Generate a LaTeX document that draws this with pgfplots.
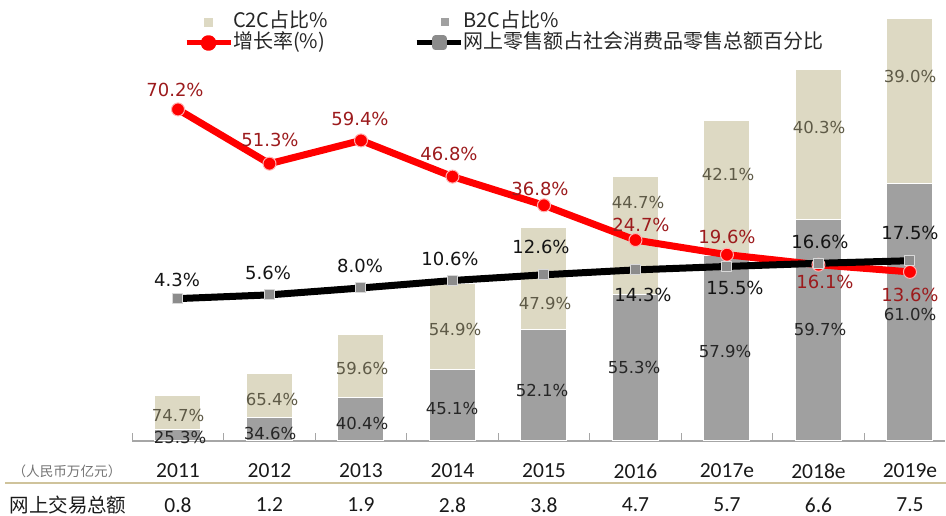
\documentclass[border=0pt]{standalone}
\usepackage{pgfplots}
\pgfplotsset{compat=1.18}
\usepackage{fontspec}
\setmainfont{DejaVu Sans}
\newfontfamily\cjk{Noto Sans CJK SC}
\newfontfamily\calfont{Carlito}
\newfontfamily\dvfont{DejaVu Sans}
\definecolor{c2c}{HTML}{DDD9C3}
\definecolor{b2c}{HTML}{A0A0A0}
\definecolor{redlbl}{HTML}{9C1A1C}
\definecolor{c2clbl}{HTML}{5E5A47}
\definecolor{b2clbl}{HTML}{262626}
\definecolor{axgray}{HTML}{A6A6A6}
\definecolor{tanline}{HTML}{CFC39B}
\definecolor{sqgray}{HTML}{8C8C8C}
\definecolor{sqedge}{HTML}{D9D9D9}
\newcommand\lab[4]{\node[#1] at (#2,{516-#3}) {#4};}
\begin{document}
\begin{tikzpicture}
\pgfplotsset{base/.style={at={(132.25pt,75pt)}, anchor=south west, scale only axis,
  width=812.75pt, height=426pt, xmin=-0.5, xmax=8.383, clip=false}}
\begin{axis}[base, ymin=0, ymax=7.567, ybar stacked, bar width=46pt,
  axis x line*=bottom, axis y line=none,
  x axis line style={axgray, line width=1.5pt},
  xtick={0,...,8},
  xticklabels={2011,2012,2013,2014,2015,2016,2017e,2018e,2019e},
  major tick length=0pt,
  minor xtick={-0.5,0.5,1.5,2.5,3.5,4.5,5.5,6.5,7.5},
  minor tick length=8pt, tick align=inside,
  minor x tick style={axgray, line width=1pt},
  xticklabel style={font=\calfont\fontsize{21.5}{24}\selectfont, text=black!90, anchor=center, yshift=-30pt, inner sep=0pt}]
\addplot[fill=b2c, draw=white, line width=1pt] coordinates {
 (0,0.2024) (1,0.4152) (2,0.7676) (3,1.2628) (4,1.9798) (5,2.5991) (6,3.3003) (7,3.9402) (8,4.575)};
\addplot[fill=c2c, draw=white, line width=1pt] coordinates {
 (0,0.5976) (1,0.7848) (2,1.1324) (3,1.5372) (4,1.8202) (5,2.1009) (6,2.3997) (7,2.6598) (8,2.925)};
\end{axis}
\begin{axis}[base, ymin=-45.3, ymax=103.1, axis lines=none,
  legend columns=2, legend cell align=left,
  legend style={at={(0.0637,1.00822)}, anchor=north west, draw=none, fill=none,
    inner sep=0pt, outer sep=0pt, font=\cjk\fontsize{20}{22}\selectfont,
    nodes={inner sep=0pt, text height=16.5pt, text depth=4.5pt, text=black!85},
    /tikz/column 2/.style={column sep=86pt}}]
\addlegendimage{legend image code/.code={\fill[c2c] (18pt,-4pt) rectangle (26pt,4pt);}}
\addlegendentry{C2C占比\%}
\addlegendimage{legend image code/.code={\fill[b2c] (25pt,-3.5pt) rectangle (32pt,3.5pt);}}
\addlegendentry{B2C占比\%}
\addplot[red, line width=7pt, line join=round, mark=*, mark size=6.5pt,
  mark options={fill=red, draw=red!30, line width=1pt},
  legend image code/.code={\draw[red, line width=5pt] (0pt,0pt)--(44pt,0pt); \fill[red] (22pt,0pt) circle (4.5pt);}]
 coordinates {(0,70.2) (1,51.3) (2,59.4) (3,46.8) (4,36.8) (5,24.7) (6,19.6) (7,16.1) (8,13.6)};
\addlegendentry{增长率(\%)}
\addplot[black, line width=7pt, line join=round, mark=square*, mark size=5pt,
  mark options={fill=sqgray, draw=sqedge, line width=1pt},
  legend image code/.code={\draw[black, line width=5pt] (0pt,0pt)--(44pt,0pt); \fill[sqgray] (19pt,-4pt) rectangle (27pt,4pt);}]
 coordinates {(0,4.3) (1,5.6) (2,8.0) (3,10.6) (4,12.6) (5,14.3) (6,15.5) (7,16.6) (8,17.5)};
\addlegendentry{网上零售额占社会消费品零售总额百分比}
\end{axis}
\begin{scope}[x=1pt, y=1pt,
  cl/.style={font=\dvfont\fontsize{16.5}{18}\selectfont, text=c2clbl, inner sep=0pt},
  bl/.style={font=\dvfont\fontsize{16.5}{18}\selectfont, text=b2clbl, inner sep=0pt},
  rl/.style={font=\dvfont\fontsize{18}{20}\selectfont, text=redlbl, inner sep=0pt},
  kl/.style={font=\dvfont\fontsize{18}{20}\selectfont, text=black!92, inner sep=0pt},
  vl/.style={font=\calfont\fontsize{21.5}{24}\selectfont, text=black!90, inner sep=0pt}]
% C2C labels
\lab{cl}{178}{415}{74.7\%}
\lab{cl}{272}{399}{65.4\%}
\lab{cl}{362}{368}{59.6\%}
\lab{cl}{455}{330}{54.9\%}
\lab{cl}{545}{303}{47.9\%}
\lab{cl}{638}{203}{44.7\%}
\lab{cl}{728}{175}{42.1\%}
\lab{cl}{819}{128}{40.3\%}
\lab{cl}{910}{77}{39.0\%}
% B2C labels
\lab{bl}{180}{437}{25.3\%}
\lab{bl}{270}{433}{34.6\%}
\lab{bl}{362}{423}{40.4\%}
\lab{bl}{452}{408}{45.1\%}
\lab{bl}{542}{390}{52.1\%}
\lab{bl}{634}{367}{55.3\%}
\lab{bl}{725}{352}{57.9\%}
\lab{bl}{820}{330}{59.7\%}
\lab{bl}{910}{315}{61.0\%}
% growth labels
\lab{rl}{175}{90}{70.2\%}
\lab{rl}{270}{140}{51.3\%}
\lab{rl}{360}{119}{59.4\%}
\lab{rl}{449}{154}{46.8\%}
\lab{rl}{540}{189}{36.8\%}
\lab{rl}{641}{225}{24.7\%}
\lab{rl}{727}{237}{19.6\%}
\lab{rl}{825}{282}{16.1\%}
\lab{rl}{910}{295}{13.6\%}
% share labels
\lab{kl}{177}{280}{4.3\%}
\lab{kl}{268}{273}{5.6\%}
\lab{kl}{360}{266}{8.0\%}
\lab{kl}{450}{259}{10.6\%}
\lab{kl}{541}{247}{12.6\%}
\lab{kl}{643}{295}{14.3\%}
\lab{kl}{735}{288}{15.5\%}
\lab{kl}{820}{242}{16.6\%}
\lab{kl}{910}{233}{17.5\%}
% bottom rows
\lab{font=\cjk\fontsize{13.6}{15}\selectfont, text=black!55, inner sep=0pt}{67}{471}{（人民币万亿元）}
\draw[tanline, line width=1.5pt] (5,33) -- (946,33);
\lab{font=\cjk\fontsize{19.5}{21}\selectfont, text=black!90, inner sep=0pt}{68}{505}{网上交易总额}
\lab{vl}{178}{505}{0.8}
\lab{vl}{269.5}{505}{1.2}
\lab{vl}{361}{505}{1.9}
\lab{vl}{452.5}{505}{2.8}
\lab{vl}{544}{505}{3.8}
\lab{vl}{635.5}{505}{4.7}
\lab{vl}{727}{505}{5.7}
\lab{vl}{818.5}{505}{6.6}
\lab{vl}{910}{505}{7.5}
\pgfresetboundingbox
\path[use as bounding box] (0,0) rectangle (946,516);
\end{scope}
\end{tikzpicture}
\end{document}
